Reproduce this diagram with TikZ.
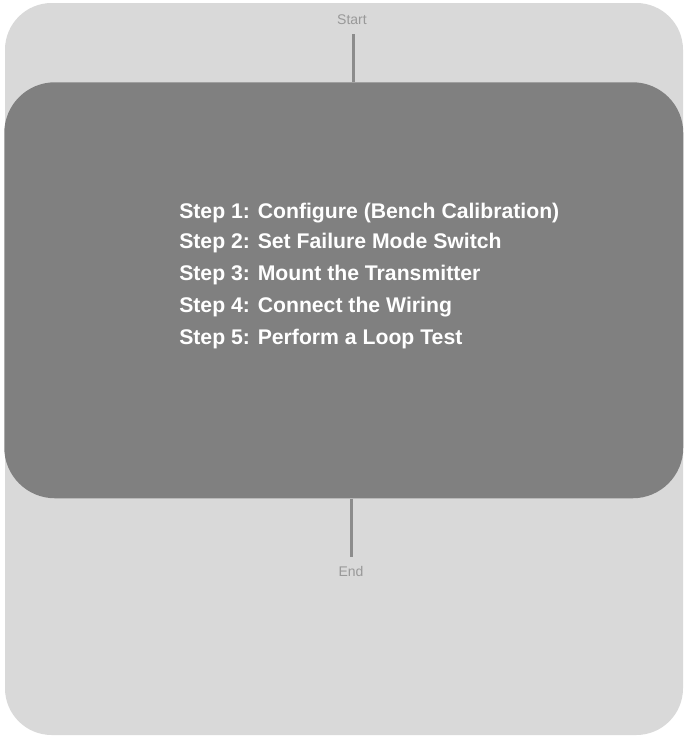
\documentclass[tikz,border=0pt]{standalone}
\usepackage{fontspec}
\setmainfont{Liberation Sans}
\definecolor{panelbg}{HTML}{D9D9D9}
\definecolor{stagebg}{HTML}{808080}
\definecolor{wire}{HTML}{8C8C8C}
\definecolor{caption}{HTML}{999999}
\begin{document}
\begin{tikzpicture}[x=0.75pt,y=-0.75pt,
  terminal/.style={font=\fontsize{10.5}{12}\selectfont, text=caption, inner sep=0pt},
  steptext/.style={font=\bfseries\fontsize{15.9}{19}\selectfont, text=white, align=left, inner sep=0pt, anchor=west},
  wireline/.style={draw=wire, line width=2.25pt}]
\useasboundingbox (0,0) rectangle (683,736);
% outer panel
\fill[panelbg, rounded corners=35] (5,3) rectangle (683,735);
% process stage
\node[fill=stagebg, rounded corners=38, minimum width=679*0.75pt, minimum height=416*0.75pt, inner sep=0pt, anchor=north west] (stage) at (4,82) {};
% terminals
\node[terminal] (start) at (352,20) {Start};
\coordinate (startfoot) at (353,34);
\node[terminal] (end) at (351,571) {End};
\coordinate (endhead) at (351,557);
% steps
\node[steptext] (s1) at (179,213) {Step 1: Configure (Bench Calibration)};
\node[steptext] (s2) at (179,243) {Step 2: Set Failure Mode Switch};
\node[steptext] (s3) at (179,275) {Step 3: Mount the Transmitter};
\node[steptext] (s4) at (179,307) {Step 4: Connect the Wiring};
\node[steptext] (s5) at (179,339) {Step 5: Perform a Loop Test};
% connectors
\draw[wireline] (startfoot) -- (startfoot |- stage.north);
\draw[wireline] (endhead |- stage.south) -- (endhead);
\end{tikzpicture}
\end{document}
